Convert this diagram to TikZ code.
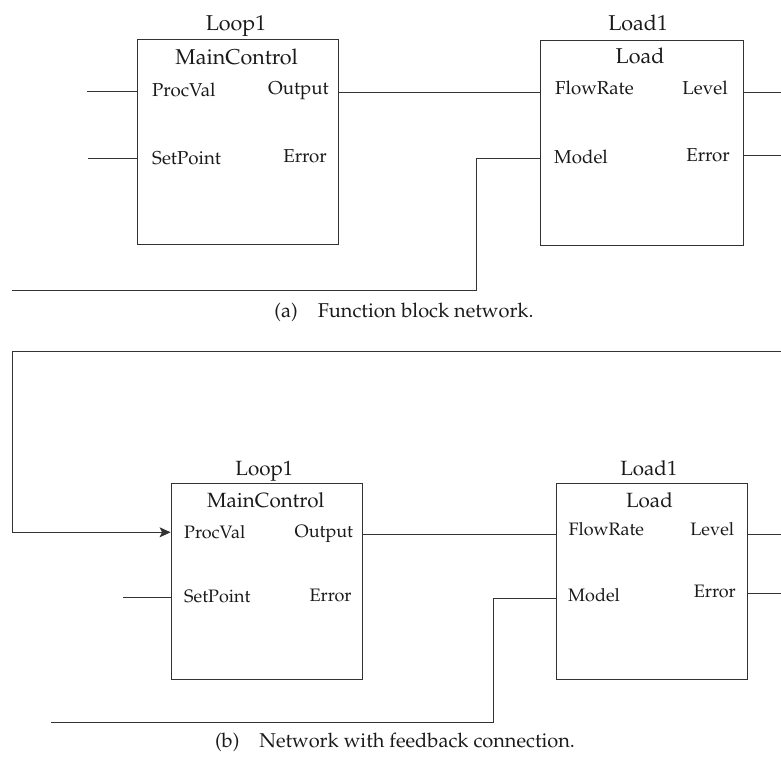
\documentclass[tikz,border=0pt]{standalone}
\usepackage[T1]{fontenc}
\usepackage{mathpazo}
\usetikzlibrary{arrows.meta}
\definecolor{ink}{HTML}{333333}
\definecolor{txt}{HTML}{1A1A1A}
\begin{document}
\begin{tikzpicture}[x=1pt,y=-1pt,
  wire/.style={draw=ink, line width=0.9pt},
  blk/.style={draw=ink, line width=0.9pt, inner sep=0pt},
  ttlA/.style={inner sep=0pt, anchor=base, text=txt, font=\fontsize{21.5}{24}\selectfont},
  prtA/.style={inner sep=0pt, text=txt, font=\fontsize{18.7}{22}\selectfont},
  ttlB/.style={inner sep=0pt, anchor=base, text=txt, font=\fontsize{20.6}{24}\selectfont},
  prtB/.style={inner sep=0pt, text=txt, font=\fontsize{18}{22}\selectfont},
  captxt/.style={inner sep=0pt, anchor=base, text=txt, font=\fontsize{20}{24}\selectfont},
  fb/.style={wire, -{Stealth[length=11pt,width=10pt,inset=2.5pt]}}]
\useasboundingbox (0,0) rectangle (781,762);
% ---------- (a) ----------
\node[blk, minimum width=201pt, minimum height=205pt] (A) at (238,141.5) {};
\node[ttlA] (Aname) at (236,31) {Loop1};
\node[ttlA] (Atype) at (236.7,64.3) {MainControl};
\node[prtA, anchor=base west] (Apv) at (152,97) {ProcVal};
\node[prtA, anchor=base east] (Aout) at (329,95) {Output};
\node[prtA, anchor=base west] (Asp) at (152,165) {SetPoint};
\node[prtA, anchor=base east] (Aerr) at (327,162.3) {Error};
\node[blk, minimum width=203pt, minimum height=205pt] (B) at (641.5,142.5) {};
\node[ttlA] (Bname) at (638,31) {Load1};
\node[ttlA] (Btype) at (640,64) {Load};
\node[prtA, anchor=base west] (Bfr) at (555,95) {FlowRate};
\node[prtA, anchor=base east] (Blv) at (728,95) {Level};
\node[prtA, anchor=base west] (Bmd) at (554,163.3) {Model};
\node[prtA, anchor=base east] (Ber) at (730,161.7) {Error};
\coordinate (a1) at (87,91);
\coordinate (a2) at (88,158);
\coordinate (a3) at (781,92);
\coordinate (a4) at (781,155);
\coordinate (a5) at (476,290);
\coordinate (a6) at (12,290);
\draw[wire] (a1) -- (a1 -| A.west);
\draw[wire] (a2) -- (a2 -| A.west);
\draw[wire] (A.east |- a3) -- (B.west |- a3);
\draw[wire] (B.east |- a3) -- (a3);
\draw[wire] (B.east |- a4) -- (a4);
\draw[wire] (B.west |- 0,158) -- (a5 |- 0,158) -- (a5) -- (a6);
\node[captxt] (capA) at (404,317.5) {(a)\quad Function block network.};
% ---------- (b) ----------
\node[blk, minimum width=191.5pt, minimum height=195.5pt] (C) at (266.8,581.5) {};
\node[ttlB] (Cname) at (264.3,475) {Loop1};
\node[ttlB] (Ctype) at (265.8,507.7) {MainControl};
\node[prtB, anchor=base west] (Cpv) at (184,538.3) {ProcVal};
\node[prtB, anchor=base east] (Cout) at (353.3,537.7) {Output};
\node[prtB, anchor=base west] (Csp) at (184,602.5) {SetPoint};
\node[prtB, anchor=base east] (Cerr) at (351.7,601.5) {Error};
\node[blk, minimum width=191.5pt, minimum height=195.5pt] (D) at (651.7,581.5) {};
\node[ttlB] (Dname) at (648.8,475) {Load1};
\node[ttlB] (Dtype) at (649.5,507.7) {Load};
\node[prtB, anchor=base west] (Dfr) at (568.3,535) {FlowRate};
\node[prtB, anchor=base east] (Dlv) at (734.3,535) {Level};
\node[prtB, anchor=base west] (Dmd) at (568,601.7) {Model};
\node[prtB, anchor=base east] (Der) at (736,597.7) {Error};
\coordinate (b1) at (781,351);
\coordinate (b2) at (12,351);
\coordinate (b3) at (12,532.3);
\coordinate (b4) at (123,597);
\coordinate (b5) at (781,534);
\coordinate (b6) at (781,593);
\coordinate (b7) at (493,722);
\coordinate (b8) at (51,722);
\draw[fb] (b1) -- (b2) -- (b3) -- (b3 -| C.west);
\draw[wire] (b4) -- (b4 -| C.west);
\draw[wire] (C.east |- b5) -- (D.west |- b5);
\draw[wire] (D.east |- b5) -- (b5);
\draw[wire] (D.east |- b6) -- (b6);
\draw[wire] (D.west |- 0,598) -- (b7 |- 0,598) -- (b7) -- (b8);
\node[captxt] (capB) at (395,747) {(b)\quad Network with feedback connection.};
\end{tikzpicture}
\end{document}
